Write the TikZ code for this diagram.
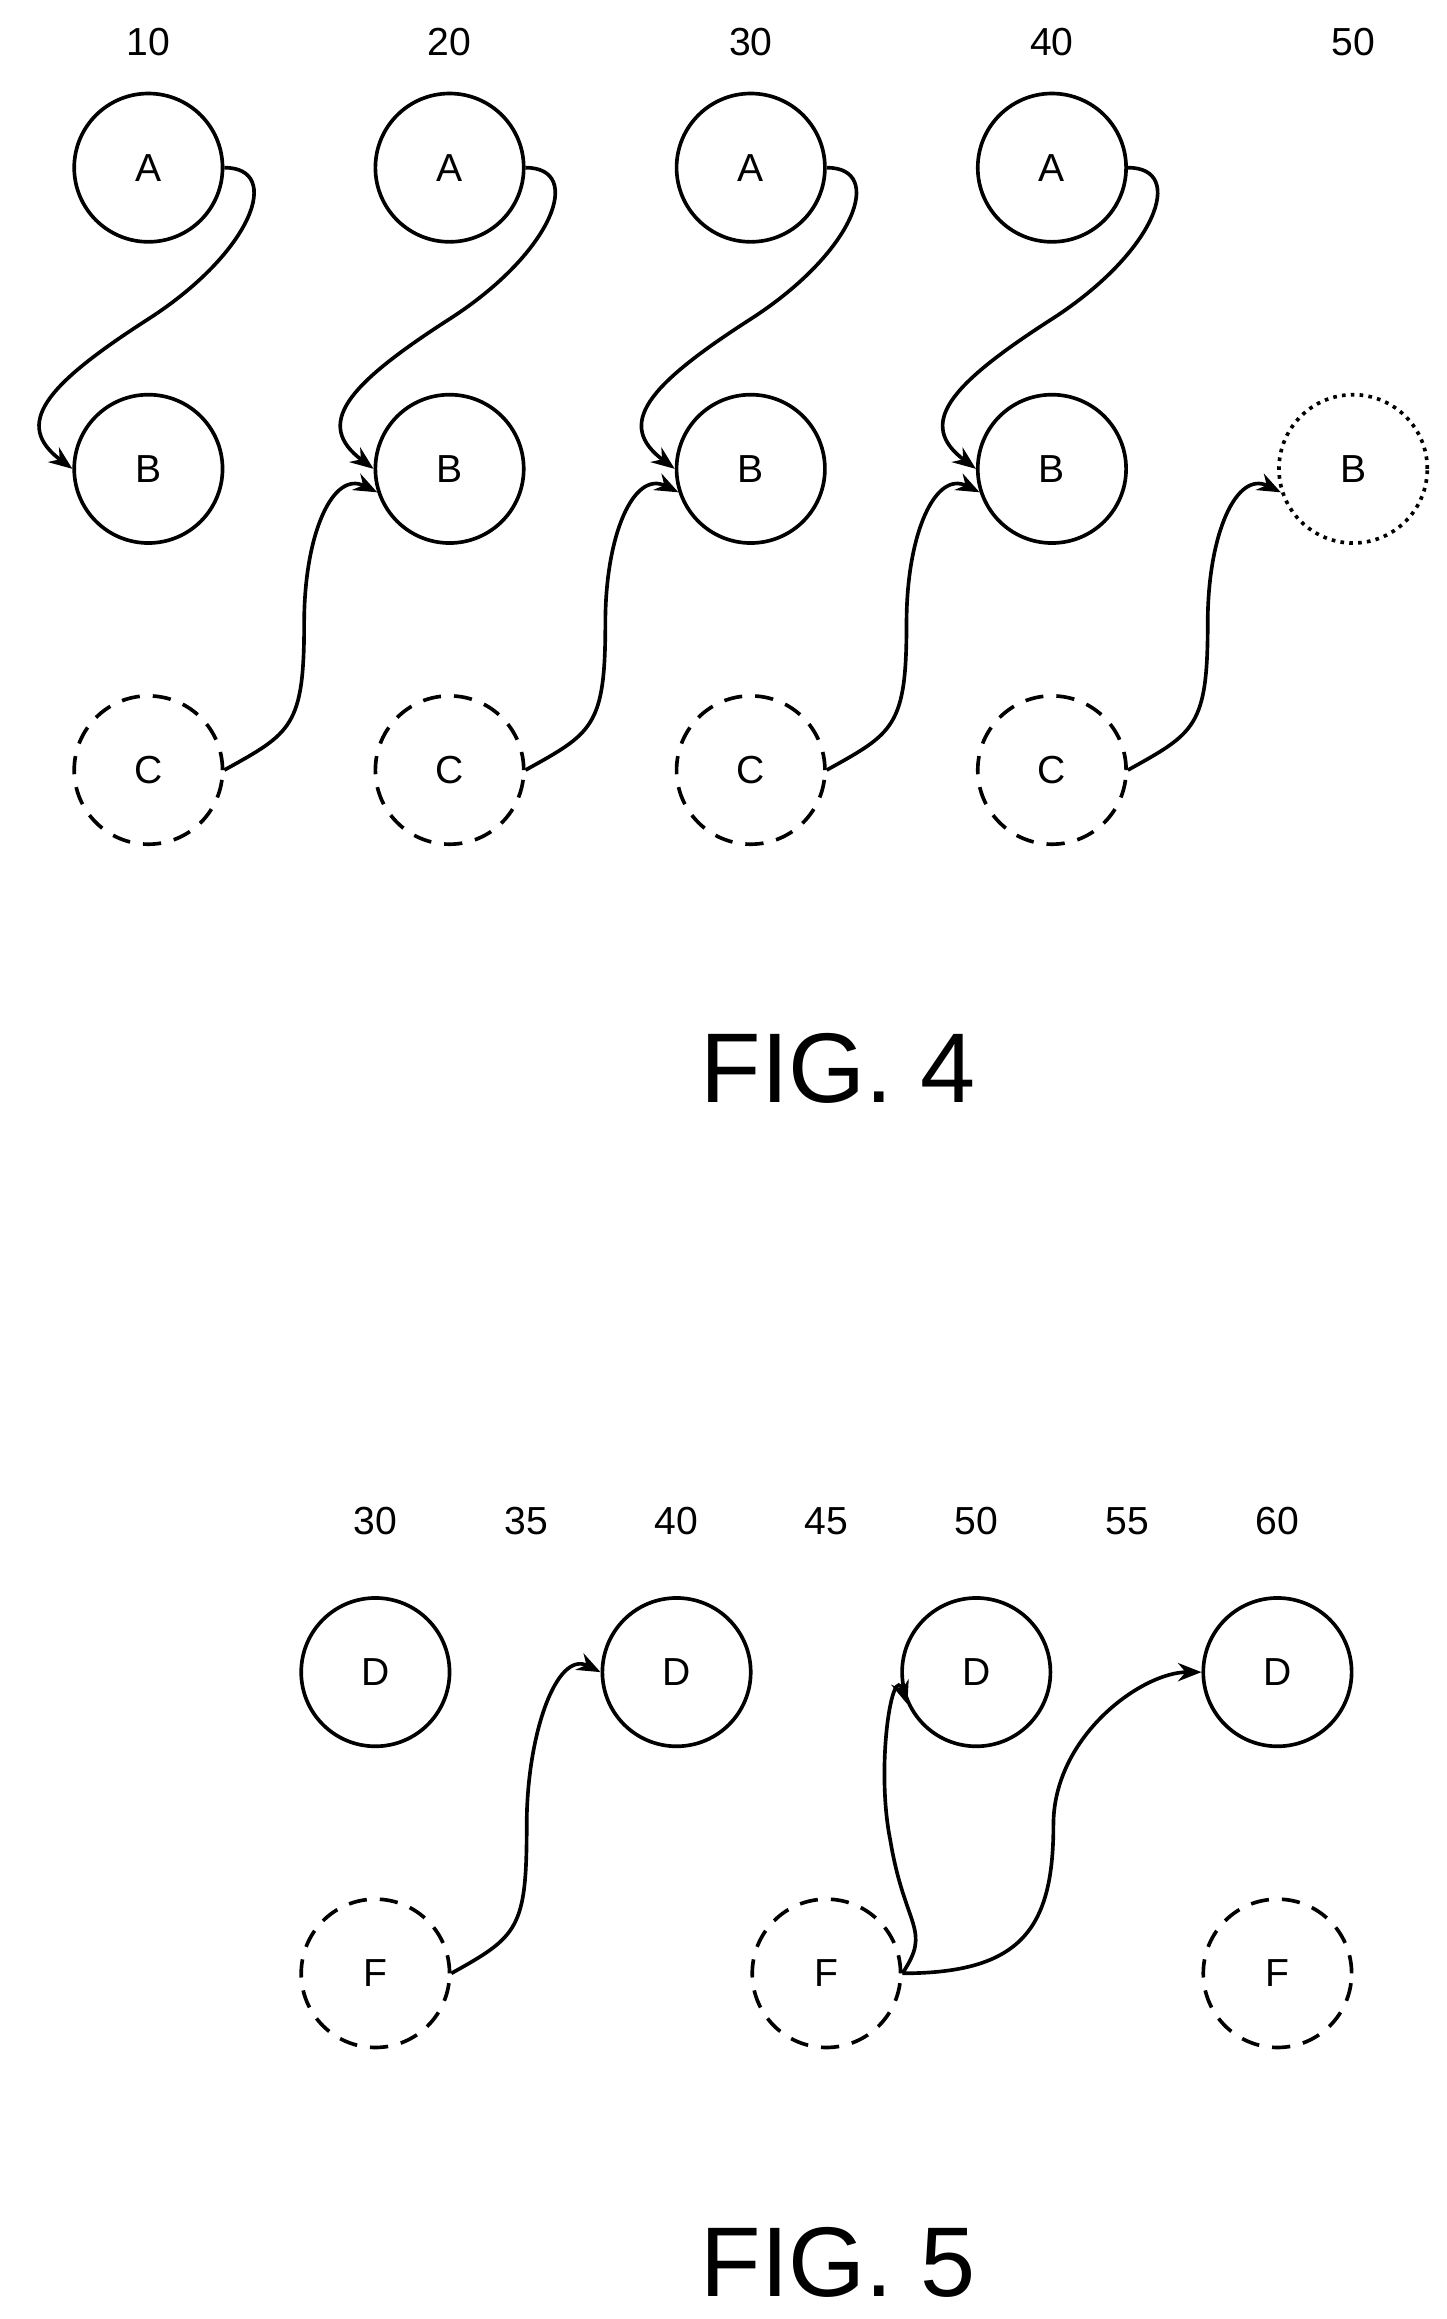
\documentclass[tikz,border=0pt]{standalone}
\usepackage{fontspec}
\setmainfont{Liberation Sans}
\usetikzlibrary{arrows.meta,calc}
\tikzstyle{state}=[circle, draw, line width=1.4pt, minimum size=2cm, inner sep=0pt, font=\fontsize{15}{15}\selectfont]
\tikzstyle{ghost}=[state, dashed, dash pattern=on 7pt off 5pt]
\tikzstyle{faint}=[state, dotted]
\tikzstyle{lbl}=[font=\fontsize{15}{15}\selectfont]
\tikzstyle{link}=[line width=1.4pt, -{Stealth[length=9pt,width=7pt]}]
\begin{document}
\begin{tikzpicture}[x=0.02cm, y=-0.02cm]
    \useasboundingbox (0,0) rectangle (975,1563);

    % fig 4
    \foreach \i/\x in {1/100,2/303,3/506,4/709} {
        \node[lbl] (t\i) at (\x,28) {\i0};
        \node[state] (a\i) at (\x,113) {A};
        \node[state] (b\i) at (\x,316) {B};
        \node[ghost] (c\i) at (\x,519) {C};
        \coordinate (m\i) at (\x,215);
        \coordinate (n\i) at ($(\x,420)+(105,0)$);
    }
    \node[lbl] (t5) at (912,28) {50};
    \node[faint] (b5) at (912,316) {B};

    \foreach \i in {1,2,3,4} {
        \draw[link] (a\i.east) .. controls +(40,0) and +(70,-45) .. (m\i)
            .. controls +(-70,45) and +(-40,-30) .. (b\i.west);
    }
    \foreach \i/\j in {1/2,2/3,3/4,4/5} {
        \draw[link] (c\i.east) .. controls +(45,-25) and +(0,70) .. (n\i)
            .. controls +(0,-60) and +(-30,-15) .. (b\j.198);
    }

    \node[font=\fontsize{38}{38}\selectfont] (fig4) at (565,720) {FIG. 4};

    % fig 5
    \foreach \x/\t in {253/30,355/35,456/40,557/45,658/50,760/55,861/60}
        \node[lbl] (u\t) at (\x,1025) {\t};
    \node[state] (d30) at (253,1127) {D};
    \node[state] (d40) at (456,1127) {D};
    \node[state] (d50) at (658,1127) {D};
    \node[state] (d60) at (861,1127) {D};
    \node[ghost] (f30) at (253,1330) {F};
    \node[ghost] (f45) at (557,1330) {F};
    \node[ghost] (f60) at (861,1330) {F};

    \coordinate (k1) at (355,1230);
    \coordinate (k2) at (710,1230);
    \coordinate (k3) at (600,1240);
    \draw[link] (f30.east) .. controls +(45,-25) and +(0,70) .. (k1)
        .. controls +(0,-60) and +(-30,-15) .. (d40.west);
    \draw[link] (f45.east) .. controls +(20,-30) and +(10,60) .. (k3)
        .. controls +(-10,-50) and +(-10,-30) .. (d50.205);
    \draw[link] (f45.east) .. controls +(80,0) and +(0,70) .. (k2)
        .. controls +(0,-60) and +(-40,0) .. (d60.west);

    \node[font=\fontsize{38}{38}\selectfont] (fig5) at (565,1525) {FIG. 5};
\end{tikzpicture}
\end{document}
